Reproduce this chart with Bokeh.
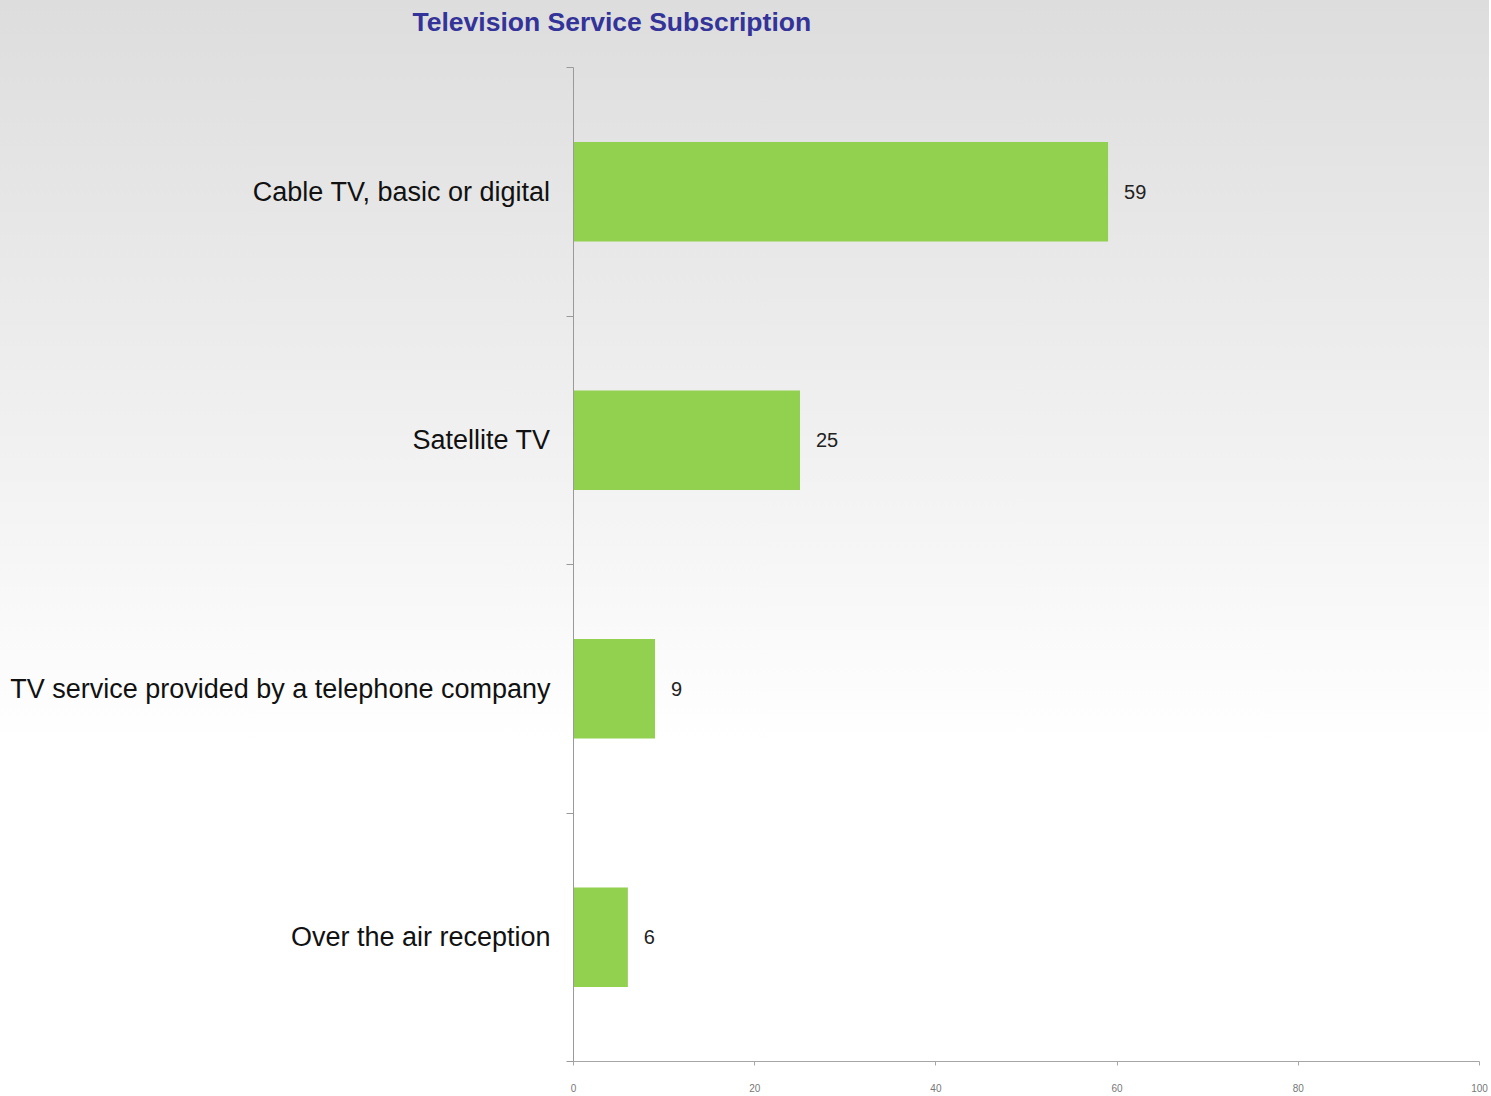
from bokeh.plotting import figure
from bokeh.models import Range1d, FixedTicker, Title
from bokeh.core.properties import value
from bokeh.embed import file_html
from bokeh.resources import INLINE

# ---- data ----
categories = [
    "Cable TV, basic or digital",
    "Satellite TV",
    "TV service provided by a telephone company",
    "Over the air reception",
]
values = [59, 25, 9, 6]
x_ticks = [0, 20, 40, 60, 80, 100]
title_text = "Television Service Subscription"

n = len(categories)
# each category occupies a band of 2 units; top category first
positions = [2 * (n - 1 - i) + 1 for i in range(n)]
boundaries = [2 * k for k in range(n + 1)]

FONT = "Liberation Sans"

p = figure(
    width=1489, height=1094,
    x_range=Range1d(0, 100), y_range=Range1d(0, 2 * n),
    output_backend="svg", toolbar_location=None,
    min_border_left=573, min_border_right=10,
    min_border_top=67, min_border_bottom=32,
)
p.styles = {"background": "linear-gradient(to bottom, #dddddd 0%, #f3f3f3 45%, #ffffff 68%, #ffffff 100%)"}
p.border_fill_color = None
p.background_fill_color = None
p.outline_line_color = None
p.xgrid.grid_line_color = None
p.ygrid.grid_line_color = None

p.hbar(y=positions, right=values, left=0, height=0.8,
       fill_color="#92d050", line_color=None)

p.text(x=values, y=positions, text=[str(v) for v in values],
       x_offset=16, text_baseline="middle", text_align="left",
       text_font=value(FONT), text_font_size="20px", text_color="#222222")

# y axis
ya = p.yaxis[0]
ya.ticker = FixedTicker(ticks=positions, minor_ticks=boundaries)
ya.major_label_overrides = {pos: lab for pos, lab in zip(positions, categories)}
ya.major_tick_out = 0
ya.major_tick_in = 0
ya.minor_tick_out = 7
ya.minor_tick_in = 0
ya.minor_tick_line_color = "#9a9a9a"
ya.axis_line_color = "#9a9a9a"
ya.major_label_standoff = 16
ya.major_label_text_font = FONT
ya.major_label_text_font_size = "27px"
ya.major_label_text_color = "#111111"

# x axis
xa = p.xaxis[0]
xa.ticker = FixedTicker(ticks=x_ticks, minor_ticks=[])
xa.major_tick_out = 4
xa.major_tick_in = 0
xa.major_tick_line_color = "#a6a6a6"
xa.axis_line_color = "#a6a6a6"
xa.major_label_standoff = 18
xa.major_label_text_font = FONT
xa.major_label_text_font_size = "10px"
xa.major_label_text_color = "#777777"

# spacer between frame and title, then the title itself (further out)
p.add_layout(Title(text=" ", text_font_size="1px", standoff=28), "above")
p.add_layout(Title(text=title_text, align="left", offset=-161, standoff=0,
                   text_font=FONT, text_font_size="26.5px", text_font_style="bold",
                   text_color="#333399"), "above")

open("out.html", "w").write(file_html(p, INLINE))
